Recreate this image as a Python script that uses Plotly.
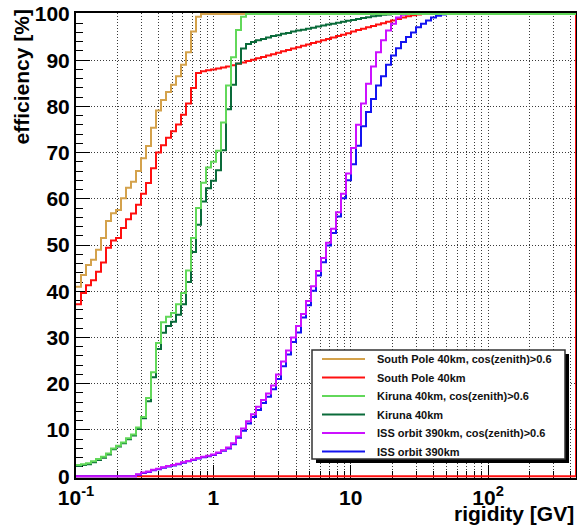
import numpy as np
import plotly.graph_objects as go

# ---------------- data ----------------
LOG_XMIN, LOG_XMAX, NBINS = -1.0, 2.64, 100          # rigidity binning, GV (log-spaced)
bin_edges = np.logspace(LOG_XMIN, LOG_XMAX, NBINS + 1)

south_pole_cos = [41.0, 43.5, 45.7, 46.8, 49.0, 51.5, 55.2, 56.9, 57.6, 60.1, 62.4, 63.7, 66.0,
                  68.8, 71.4, 75.4, 79.1, 81.4, 83.1, 84.7, 86.5, 89.0, 91.7, 96.2, 99.4] + [100.0] * 75

south_pole = [37.2, 39.6, 41.3, 42.4, 44.2, 46.2, 49.4, 51.0, 51.5, 53.7, 55.6, 56.8, 58.7, 61.1,
              63.4, 66.6, 70.0, 71.6, 73.2, 74.6, 76.1, 78.2, 80.6, 84.0, 87.2,
              87.6, 87.8, 88.0, 88.2, 88.4, 88.6, 88.9, 89.2, 89.5, 89.8, 90.1, 90.4, 90.7, 91.0,
              91.3, 91.6, 91.9, 92.2, 92.5, 92.8, 93.1, 93.4, 93.7, 94.0, 94.3, 94.6, 94.9, 95.2,
              95.5, 95.8, 96.2, 96.5, 96.8, 97.1, 97.4, 97.7, 98.0, 98.3, 98.6, 98.9, 99.2, 99.5,
              99.7, 99.9] + [100.0] * 31

kiruna_cos = [2.4, 2.6, 2.8, 3.2, 3.7, 4.2, 4.9, 6.0, 6.6, 7.3, 8.2, 9.0, 10.5, 12.8, 16.9, 22.5,
              28.8, 33.3, 34.5, 35.3, 37.2, 39.6, 44.5, 51.5, 58.0, 63.5, 66.8, 68.0, 70.4, 76.5,
              84.5, 90.6, 96.5, 99.4] + [100.0] * 66

kiruna = [2.2, 2.4, 2.6, 3.0, 3.5, 4.0, 4.7, 5.8, 6.4, 7.1, 8.0, 8.8, 10.2, 12.5, 16.2, 21.4,
          27.5, 31.0, 32.5, 33.4, 34.9, 37.2, 42.0, 48.5, 54.4, 59.4, 62.3, 63.9, 66.2, 70.5,
          79.4, 84.7, 89.3, 92.5, 93.5, 93.9, 94.3, 94.6, 94.9, 95.2, 95.4, 95.7, 95.9, 96.2,
          96.4, 96.6, 96.8, 97.0, 97.3, 97.5, 97.7, 97.9, 98.1, 98.3, 98.5, 98.7, 98.9, 99.1,
          99.3, 99.5, 99.6, 99.8, 99.9] + [100.0] * 37

iss_cos = [0.0] * 12 + [0.4, 0.8, 1.0, 1.4, 1.6, 1.9, 2.2, 2.4, 2.7, 3.0, 3.3, 3.6, 3.9, 4.2, 4.4,
                        4.7, 5.1, 5.6, 6.2, 7.1, 8.6, 10.3, 11.9, 13.4, 15.0, 16.5, 17.9, 19.6,
                        22.0, 24.8, 27.2, 30.0, 32.5, 35.1, 37.9, 41.1, 44.4, 47.2, 50.5, 53.5,
                        57.1, 61.1, 65.5, 71.0, 76.0, 80.6, 84.9, 88.6, 91.7, 94.3, 96.4, 97.9,
                        99.2, 99.8] + [100.0] * 34

iss = [0.0] * 12 + [0.3, 0.7, 0.9, 1.3, 1.5, 1.8, 2.1, 2.3, 2.6, 2.9, 3.2, 3.5, 3.8, 4.1, 4.3, 4.6,
                    5.0, 5.5, 6.0, 6.9, 8.3, 9.8, 11.4, 12.8, 14.3, 15.8, 17.2, 18.8, 21.0, 23.8,
                    26.3, 29.0, 31.1, 34.3, 37.0, 40.1, 43.4, 46.3, 49.9, 52.6, 56.2, 60.1, 64.0,
                    67.5, 71.5, 75.7, 78.8, 81.6, 84.5, 86.5, 89.0, 91.0, 92.6, 93.9, 95.0, 96.0,
                    97.1, 97.9, 98.6, 99.2, 99.6, 99.9] + [100.0] * 26

legend_labels = ["South Pole 40km, cos(zenith)>0.6", "South Pole 40km",
                 "Kiruna 40km, cos(zenith)>0.6", "Kiruna 40km",
                 "ISS orbit 390km, cos(zenith)>0.6", "ISS orbit 390km"]
series_values = [south_pole_cos, south_pole, kiruna_cos, kiruna, iss_cos, iss]
series_colors = ["#D4A24C", "#FF1010", "#62D85A", "#0A6B3A", "#CC11FF", "#1414F0"]

x_major = [0.1, 1, 10, 100]
x_major_text = ["10<sup>-1</sup>", "1", "10", "10<sup>2</sup>"]
x_minor = [m * d for d in (0.1, 1, 10, 100) for m in range(2, 10) if m * d < 10 ** LOG_XMAX]
y_major = list(range(0, 101, 10))
y_minor = [v for v in range(0, 101, 2) if v % 10]

# ---------------- figure ----------------
FONT = "Liberation Sans, Arial, Helvetica, sans-serif"
fig = go.Figure()

# closing outline of the South Pole histogram (right edge down to zero, back along the bottom)
fig.add_trace(go.Scatter(x=[bin_edges[-1], bin_edges[-1], bin_edges[0]],
                         y=[south_pole[-1], 0.0, 0.0], mode="lines",
                         line=dict(color=series_colors[1], width=2, simplify=False),
                         hoverinfo="skip"))

draw_order = [1, 0, 5, 4, 3, 2]   # light colours drawn last, on top
for i in draw_order:
    vals = series_values[i]
    fig.add_trace(go.Scatter(x=list(bin_edges), y=list(vals) + [vals[-1]], mode="lines",
                             line_shape="hv",
                             line=dict(color=series_colors[i], width=2, simplify=False),
                             name=legend_labels[i], hoverinfo="skip"))

grid_style = dict(gridcolor="#3a3a3a", griddash="1px,2px", gridwidth=1)

fig.update_xaxes(type="log", range=[LOG_XMIN, LOG_XMAX], automargin=False,
                 tickmode="array", tickvals=x_major, ticktext=x_major_text,
                 ticks="inside", ticklen=13, tickwidth=1, tickcolor="black",
                 showline=True, linewidth=2, linecolor="black", mirror=True,
                 showgrid=True, **grid_style, zeroline=False, layer="below traces",
                 tickfont=dict(family=FONT, size=21, color="black", weight="bold"),
                 minor=dict(tickmode="array", tickvals=x_minor, ticks="inside", ticklen=7,
                            tickwidth=1, tickcolor="black", showgrid=True, **grid_style))

fig.update_yaxes(range=[-0.4, 100.2], tickmode="array", tickvals=y_major, automargin=False,
                 ticks="inside", ticklen=14, tickwidth=1, tickcolor="black",
                 showline=True, linewidth=2, linecolor="black", mirror=True,
                 showgrid=True, **grid_style, zeroline=False, layer="below traces",
                 tickfont=dict(family=FONT, size=21, color="black", weight="bold"),
                 minor=dict(tickmode="array", tickvals=y_minor, ticks="inside", ticklen=7,
                            tickwidth=1, tickcolor="black", showgrid=False))

L, R, T, B = 76, 1, 13, 47
W, H = 577, 525
PW, PH = W - L - R, H - T - B


def px(x):
    return (x - L) / PW


def py(y):
    return (H - B - y) / PH


shapes = []
annotations = []

# legend box with ROOT-style shadow
shapes.append(dict(type="rect", xref="paper", yref="paper", x0=px(316), x1=px(569),
                   y0=py(463), y1=py(354), fillcolor="black", line=dict(width=0), layer="above"))
shapes.append(dict(type="rect", xref="paper", yref="paper", x0=px(312), x1=px(565),
                   y0=py(459), y1=py(350), fillcolor="white",
                   line=dict(color="#333333", width=1.5), layer="above"))
row_y = [359, 377.5, 396, 414.5, 433, 451.5]
for lab, col, ry in zip(legend_labels, series_colors, row_y):
    shapes.append(dict(type="line", xref="paper", yref="paper", x0=px(322), x1=px(365),
                       y0=py(ry), y1=py(ry), line=dict(color=col, width=2), layer="above"))
    annotations.append(dict(text=lab, xref="paper", yref="paper", x=px(375), y=py(ry),
                            xanchor="left", yanchor="middle", showarrow=False,
                            font=dict(family=FONT, size=11, color="#111111", weight="bold")))

# axis titles
annotations.append(dict(text="rigidity [GV]", xref="paper", yref="paper", x=1.0, y=py(513),
                        xanchor="right", yanchor="middle", showarrow=False,
                        font=dict(family=FONT, size=21, color="black", weight="bold")))
annotations.append(dict(text="efficiency [%]", xref="paper", yref="paper", x=px(21), y=py(8),
                        xanchor="center", yanchor="top", textangle=-90, showarrow=False,
                        font=dict(family=FONT, size=21, color="black", weight="bold")))

fig.update_layout(width=W, height=H, margin=dict(l=L, r=R, t=T, b=B, pad=0, autoexpand=False),
                  paper_bgcolor="white", plot_bgcolor="white", showlegend=False,
                  font=dict(family=FONT, color="black"),
                  shapes=shapes, annotations=annotations)

fig.write_html("out.html", config={"displayModeBar": False},
               post_script="document.body.style.margin='0';document.body.style.overflow='hidden';")
